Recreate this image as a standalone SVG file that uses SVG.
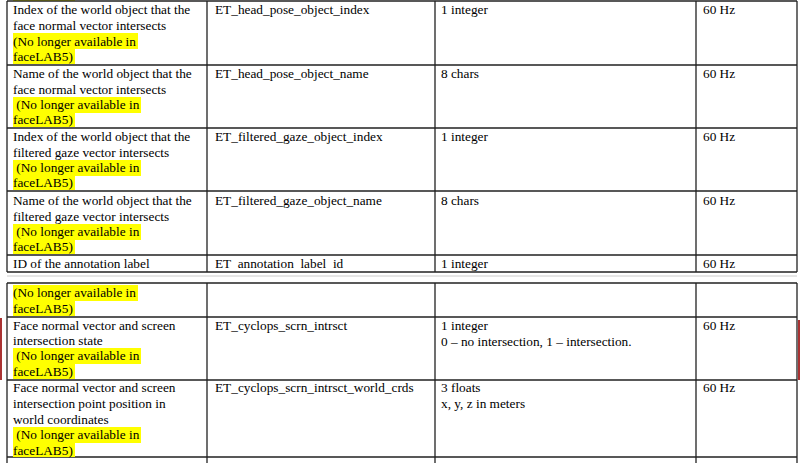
<svg xmlns="http://www.w3.org/2000/svg" width="800" height="463" viewBox="0 0 800 463">
<style>
text{font-family:"Liberation Serif",serif;font-size:13.3px;fill:#000;white-space:pre}
.l{stroke:#222;stroke-width:1.3;fill:none}
.h{fill:#ffff00}
</style>
<rect width="800" height="463" fill="#fff"/>
<rect class="h" x="13" y="0" width="62" height="1"/>
<g id="grid">
<path class="l" d="M7 1H797M7 65H797M7 128H797M7 191H797M7 255H797M7 272H797M7 283H797M7 317H797M7 380H797M7 457H797"/>
<path class="l" d="M7 1V272M207 1V272M435 1V272M696 1V272M797 1V272M7 283V463M207 283V463M435 283V463M696 283V463M797 283V463"/>
<path d="M7 276H797" stroke="#ccc" stroke-width="1"/>
<rect x="0" y="318" width="2" height="62" fill="#a33"/>
<rect x="798" y="320" width="2" height="60" fill="#a33"/>
</g>
<g id="hl">
<rect class="h" x="13" y="33" width="125" height="16"/><rect class="h" x="13" y="49" width="62" height="15"/>
<rect class="h" x="13" y="97" width="128" height="16"/><rect class="h" x="13" y="113" width="62" height="14"/>
<rect class="h" x="13" y="160" width="128" height="16"/><rect class="h" x="13" y="176" width="62" height="14"/>
<rect class="h" x="13" y="224" width="128" height="16"/><rect class="h" x="13" y="240" width="62" height="14"/>
<rect class="h" x="13" y="285" width="125" height="16"/><rect class="h" x="13" y="301" width="62" height="15"/>
<rect class="h" x="13" y="348" width="128" height="16"/><rect class="h" x="13" y="364" width="62" height="15"/>
<rect class="h" x="13" y="427" width="128" height="16"/><rect class="h" x="13" y="443" width="62" height="14"/>
</g>
<g id="r1"><text x="13" y="14">Index of the world object that the</text><text x="13" y="30">face normal vector intersects</text><text x="13" y="46">(No longer available in</text><text x="13" y="61">faceLAB5)</text><text x="215" y="14">ET_head_pose_object_index</text><text x="441" y="14">1 integer</text><text x="703" y="14">60 Hz</text></g>
<g id="r2"><text x="13" y="78">Name of the world object that the</text><text x="13" y="94">face normal vector intersects</text><text x="13" y="109"> (No longer available in</text><text x="13" y="124">faceLAB5)</text><text x="215" y="78">ET_head_pose_object_name</text><text x="441" y="78">8 chars</text><text x="703" y="78">60 Hz</text></g>
<g id="r3"><text x="13" y="141">Index of the world object that the</text><text x="13" y="157">filtered gaze vector intersects</text><text x="13" y="172"> (No longer available in</text><text x="13" y="187">faceLAB5)</text><text x="215" y="141">ET_filtered_gaze_object_index</text><text x="441" y="141">1 integer</text><text x="703" y="141">60 Hz</text></g>
<g id="r4"><text x="13" y="205">Name of the world object that the</text><text x="13" y="221">filtered gaze vector intersects</text><text x="13" y="236"> (No longer available in</text><text x="13" y="251">faceLAB5)</text><text x="215" y="205">ET_filtered_gaze_object_name</text><text x="441" y="205">8 chars</text><text x="703" y="205">60 Hz</text></g>
<g id="r5"><text x="13" y="268">ID of the annotation label</text><text x="215" y="268">ET  annotation  label  id</text><text x="441" y="268">1 integer</text><text x="703" y="268">60 Hz</text></g>
<g id="r6"><text x="13" y="297">(No longer available in</text><text x="13" y="313">faceLAB5)</text></g>
<g id="r7"><text x="13" y="330">Face normal vector and screen</text><text x="13" y="345">intersection state</text><text x="13" y="360"> (No longer available in</text><text x="13" y="376">faceLAB5)</text><text x="215" y="330">ET_cyclops_scrn_intrsct</text><text x="441" y="330">1 integer</text><text x="441" y="346">0 – no intersection, 1 – intersection.</text><text x="703" y="330">60 Hz</text></g>
<g id="r8"><text x="13" y="392">Face normal vector and screen</text><text x="13" y="408">intersection point position in</text><text x="13" y="424">world coordinates</text><text x="13" y="439"> (No longer available in</text><text x="13" y="455">faceLAB5)</text><text x="215" y="392">ET_cyclops_scrn_intrsct_world_crds</text><text x="441" y="392">3 floats</text><text x="441" y="408">x, y, z in meters</text><text x="703" y="392">60 Hz</text></g>
</svg>
